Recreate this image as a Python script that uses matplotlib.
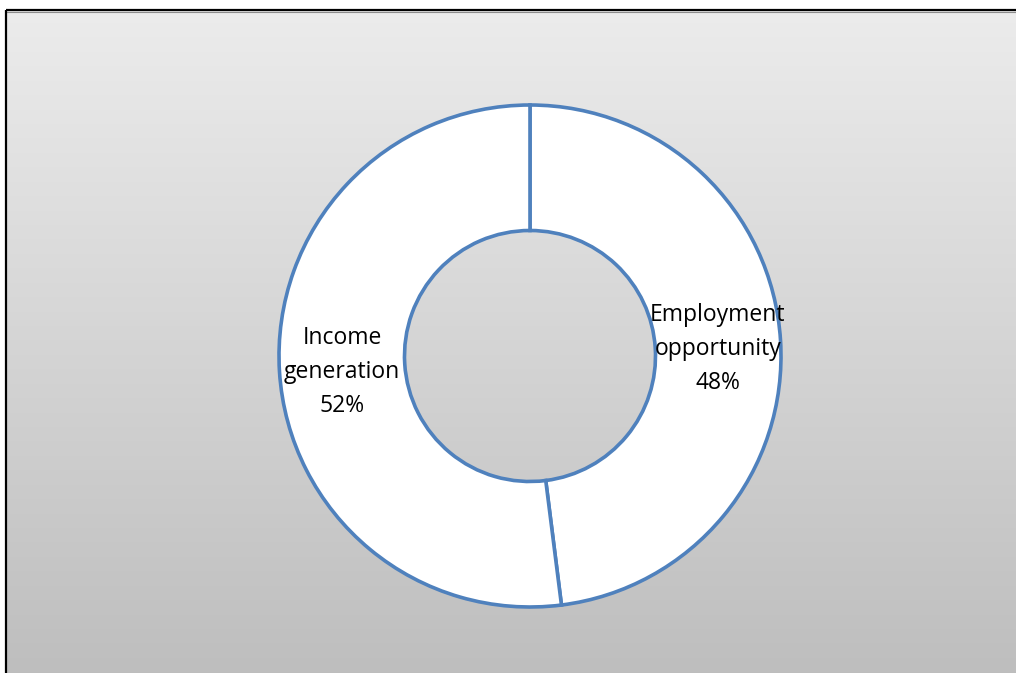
import numpy as np
import matplotlib
import matplotlib.pyplot as plt

matplotlib.use('Agg')

# Share of respondents by perceived benefit
labels = ['Employment\nopportunity', 'Income\ngeneration']
shares = [48, 52]

W, H = 1016, 673
RING = '#4f81bd'

plt.rcParams['font.family'] = ['Open Sans', 'DejaVu Sans']

fig = plt.figure(figsize=(W / 100, H / 100), dpi=100)
fig.patch.set_facecolor('white')

# Background panel: vertical grey gradient with black frame on left/top
bg = fig.add_axes([0, 0, 1, 1])
bg.set_xlim(0, W)
bg.set_ylim(H, 0)
bg.axis('off')
grad = np.linspace(0.925, 0.745, 1024).reshape(-1, 1)
bg.imshow(np.dstack([grad, grad, grad]), extent=[6, W, H, 10], aspect='auto',
          interpolation='bilinear', zorder=0)
bg.plot([6, 6], [10, H], color='black', lw=1.6, solid_capstyle='butt', zorder=2)
bg.plot([6, W], [10, 10], color='black', lw=1.6, solid_capstyle='butt', zorder=2)
bg.plot([7, W], [11.8, 11.8], color='#8c8c8c', lw=0.8, zorder=1)

# Donut chart, centre (530, 356) px, outer radius 251 px
cx, cy, r = 530, 356, 251
ax = fig.add_axes([(cx - r) / W, (H - cy - r) / H, 2 * r / W, 2 * r / H])
ax.pie(shares, startangle=90, counterclock=False, radius=1,
       colors=['white', 'white'],
       wedgeprops=dict(width=0.5, edgecolor=RING, linewidth=2.6))
ax.set_xlim(-1, 1)
ax.set_ylim(-1, 1)
ax.set_aspect('equal')
ax.axis('off')

# Labels in the middle of each ring segment (nudged down a few px)
start = 0.0
for lab, val in zip(labels, shares):
    mid = np.deg2rad(90 - 360 * (start + val / 2) / sum(shares))
    ax.text(0.75 * np.cos(mid), 0.75 * np.sin(mid) - 0.018, f'{lab}\n{val}%',
            ha='center', va='center', fontsize=16.5, linespacing=1.55,
            color='black')
    start += val

fig.savefig('out.png', dpi=100)
